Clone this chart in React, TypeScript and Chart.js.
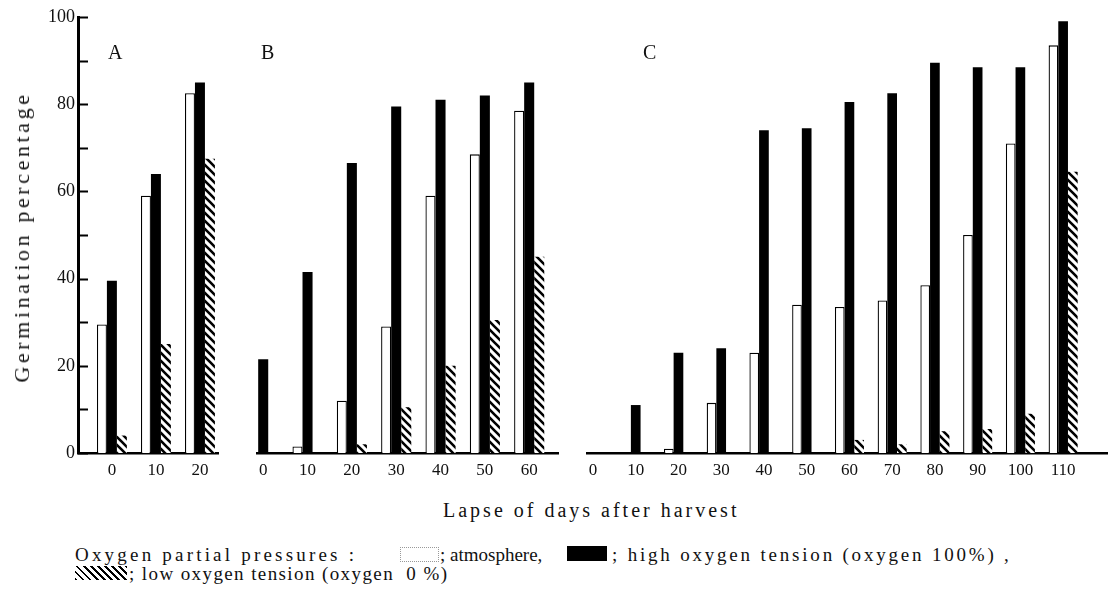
import React, { useEffect, useRef } from "react";
import { Chart, registerables } from "chart.js";

Chart.register(...registerables);

// Germination percentage by days after harvest, three seed lots (A, B, C)
const panelADays = [0, 10, 20];
const panelAAtmosphere = [29.5, 59, 82.5];
const panelAHighOxygen = [39.5, 64, 85];
const panelALowOxygen = [4, 25, 67.5];

const panelBDays = [0, 10, 20, 30, 40, 50, 60];
const panelBAtmosphere = [0, 1.5, 12, 29, 59, 68.5, 78.5];
const panelBHighOxygen = [21.5, 41.5, 66.5, 79.5, 81, 82, 85];
const panelBLowOxygen = [0, 0, 2, 10.5, 20, 30.5, 45];

const panelCDays = [0, 10, 20, 30, 40, 50, 60, 70, 80, 90, 100, 110];
const panelCAtmosphere = [0, 0, 1, 11.5, 23, 34, 33.5, 35, 38.5, 50, 71, 93.5];
const panelCHighOxygen = [0, 11, 23, 24, 74, 74.5, 80.5, 82.5, 89.5, 88.5, 88.5, 99];
const panelCLowOxygen = [0, 0, 0, 0, 0, 0, 3, 2, 5, 5.5, 9, 64.5];

const yTickLabels = [0, 20, 40, 60, 80, 100];
const yTickMarks = [0, 10, 20, 30, 40, 50, 60, 70, 80, 90, 100];

const W = 1108;
const H = 490;
const AREA_TOP = 17;
const AREA_BOTTOM = 453;
const SERIF = "'Liberation Serif', 'Times New Roman', serif";

type PanelProps = {
  days: number[];
  atmosphere: number[];
  high: number[];
  low: number[];
  xMin: number;
  xMax: number;
  areaLeft: number;
  areaRight: number;
  showY: boolean;
};

function makeHatch(): CanvasPattern | string {
  const s = 8;
  const c = document.createElement("canvas");
  c.width = s;
  c.height = s;
  const g = c.getContext("2d");
  if (!g) return "#000";
  g.fillStyle = "#fff";
  g.fillRect(0, 0, s, s);
  g.strokeStyle = "#000";
  g.lineWidth = 2.6;
  g.beginPath();
  g.moveTo(-2, -2);
  g.lineTo(s + 2, s + 2);
  g.moveTo(-2, s - 2);
  g.lineTo(2, s + 2);
  g.moveTo(s - 2, -2);
  g.lineTo(s + 2, 2);
  g.stroke();
  return g.createPattern(c, "repeat") || "#000";
}

// short tick marks drawn on the inner side of the y axis
const inwardTicks = {
  id: "inwardTicks",
  afterDraw(chart: any) {
    const y = chart.scales.y;
    if (!y || !y.options.display) return;
    const { ctx, chartArea } = chart;
    ctx.save();
    ctx.strokeStyle = "#000";
    ctx.lineWidth = 2;
    ctx.beginPath();
    for (const v of yTickMarks) {
      const py = Math.round(y.getPixelForValue(v)) + 0.5;
      ctx.moveTo(chartArea.left, py);
      ctx.lineTo(chartArea.left + 10, py);
    }
    ctx.stroke();
    ctx.restore();
  },
};

function Panel(props: PanelProps) {
  const ref = useRef<HTMLCanvasElement | null>(null);
  useEffect(() => {
    const canvas = ref.current;
    if (!canvas) return;
    const hatch = makeHatch();
    const { days, atmosphere, high, low, xMin, xMax, areaLeft, areaRight, showY } = props;
    const pts = (vals: number[]) => days.map((d, i) => ({ x: d, y: vals[i] }));
    const chart = new Chart(canvas, {
      type: "bar",
      data: {
        datasets: [
          {
            label: "atmosphere",
            data: pts(atmosphere),
            backgroundColor: "#ffffff",
            borderColor: "#000000",
            borderWidth: 1.3,
            borderSkipped: "start",
          },
          {
            label: "high oxygen tension (oxygen 100%)",
            data: pts(high),
            backgroundColor: "#000000",
            borderWidth: 0,
          },
          {
            label: "low oxygen tension (oxygen 0 %)",
            data: pts(low),
            backgroundColor: hatch as any,
            borderWidth: 0,
          },
        ],
      },
      options: {
        animation: false,
        responsive: false,
        maintainAspectRatio: false,
        datasets: { bar: { categoryPercentage: 0.68, barPercentage: 1 } },
        layout: {
          padding: { left: showY ? 0 : areaLeft, right: W - areaRight, top: AREA_TOP, bottom: 0 },
        },
        plugins: { legend: { display: false }, tooltip: { enabled: false } },
        scales: {
          x: {
            type: "linear",
            min: xMin,
            max: xMax,
            offset: false,
            grid: { display: false, drawTicks: false },
            border: { display: true, color: "#000", width: 2.5 },
            ticks: {
              color: "#111",
              font: { family: SERIF, size: 17 },
              padding: 7,
              maxRotation: 0,
              autoSkip: false,
              callback: (v: any) => String(v),
            },
            afterBuildTicks: (s: any) => {
              s.ticks = days.map((v) => ({ value: v }));
            },
            afterFit: (s: any) => {
              s.height = H - AREA_BOTTOM;
            },
          },
          y: {
            display: showY,
            min: 0,
            max: 100,
            grid: { display: false, drawTicks: false },
            border: { display: true, color: "#000", width: 3 },
            ticks: {
              color: "#111",
              font: { family: SERIF, size: 18 },
              padding: 3,
              callback: (v: any) => String(v),
            },
            afterBuildTicks: (s: any) => {
              s.ticks = yTickLabels.map((v) => ({ value: v }));
            },
            afterFit: (s: any) => {
              s.width = showY ? areaLeft : 0;
            },
          },
        },
      } as any,
      plugins: [inwardTicks],
    });
    return () => chart.destroy();
  }, []);
  return (
    <canvas
      ref={ref}
      width={W}
      height={H}
      style={{ position: "absolute", left: 0, top: 0, width: W, height: H }}
    />
  );
}

const textStyle: React.CSSProperties = {
  position: "absolute",
  fontFamily: SERIF,
  color: "#111",
  whiteSpace: "nowrap",
  lineHeight: 1,
};

export default function App() {
  const legendFont: React.CSSProperties = { ...textStyle, fontSize: 19 };
  return (
    <div style={{ position: "absolute", left: 0, top: 0, width: W, height: 594, background: "#fff", overflow: "hidden" }}>
      <Panel
        days={panelADays}
        atmosphere={panelAAtmosphere}
        high={panelAHighOxygen}
        low={panelALowOxygen}
        xMin={-7.7}
        xMax={24.1}
        areaLeft={78}
        areaRight={218}
        showY={true}
      />
      <Panel
        days={panelBDays}
        atmosphere={panelBAtmosphere}
        high={panelBHighOxygen}
        low={panelBLowOxygen}
        xMin={-1.4}
        xMax={66.5}
        areaLeft={257}
        areaRight={558}
        showY={false}
      />
      <Panel
        days={panelCDays}
        atmosphere={panelCAtmosphere}
        high={panelCHighOxygen}
        low={panelCLowOxygen}
        xMin={-1.4}
        xMax={120.5}
        areaLeft={587}
        areaRight={1108}
        showY={false}
      />

      {/* panel letters */}
      <div style={{ ...textStyle, fontSize: 20, left: 108, top: 42 }}>A</div>
      <div style={{ ...textStyle, fontSize: 20, left: 261, top: 42 }}>B</div>
      <div style={{ ...textStyle, fontSize: 20, left: 643, top: 42 }}>C</div>

      {/* y-axis title */}
      <div
        style={{
          ...textStyle,
          fontSize: 22,
          letterSpacing: "3.6px",
          left: 22,
          top: 237,
          transform: "translate(-50%, -50%) rotate(-90deg)",
        }}
      >
        Germination percentage
      </div>

      {/* x-axis title */}
      <div style={{ ...textStyle, fontSize: 20, letterSpacing: "3px", left: 443, top: 500 }}>
        Lapse of days after harvest
      </div>

      {/* legend */}
      <div style={{ ...legendFont, letterSpacing: "3.2px", left: 75, top: 545 }}>Oxygen partial pressures :</div>
      <div
        style={{
          position: "absolute",
          left: 400,
          top: 547,
          width: 37,
          height: 13,
          border: "1px dotted #999",
          background: "#fff",
        }}
      />
      <div style={{ ...legendFont, letterSpacing: "0px", left: 440, top: 545 }}>; atmosphere,</div>
      <div style={{ position: "absolute", left: 567, top: 546, width: 40, height: 15, background: "#000" }} />
      <div style={{ ...legendFont, letterSpacing: "2.8px", left: 612, top: 545 }}>
        ; high oxygen tension (oxygen 100%) ,
      </div>
      <div
        style={{
          position: "absolute",
          left: 75,
          top: 566,
          width: 52,
          height: 14,
          background: "repeating-linear-gradient(45deg, #000 0px, #000 2px, #fff 2px, #fff 5px)",
        }}
      />
      <div style={{ ...legendFont, letterSpacing: "1.4px", left: 129, top: 564 }}>
        ; low oxygen tension (oxygen&nbsp;&nbsp;0 %)
      </div>
    </div>
  );
}
